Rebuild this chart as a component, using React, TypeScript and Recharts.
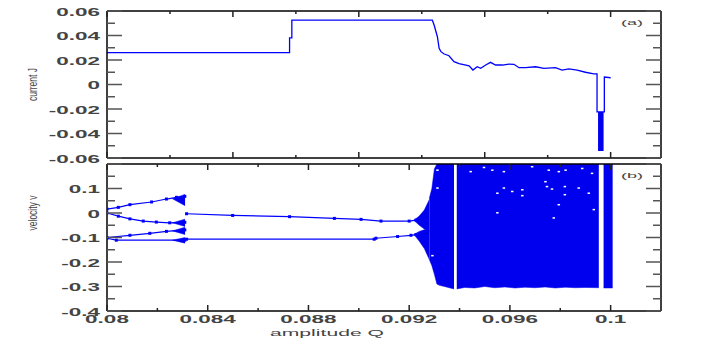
import React from 'react';
import { ComposedChart, Line, Area, Scatter, XAxis, YAxis } from 'recharts';

const Q_MIN = 0.08;
const Q_MAX = 0.102;
const BLUE = '#0000ff';
const FILL = '#0000ee';
const STRETCH = 2.25;
const FONT = '"Liberation Sans", Arial, sans-serif';

// ---- panel (a): current J vs amplitude Q
const currentJ: [number, number][] = [
  [0.08, 0.026], [0.08725, 0.026], [0.08725, 0.038], [0.08734, 0.038], [0.08734, 0.0525],
  [0.09292, 0.0525], [0.09299, 0.0486], [0.09312, 0.039], [0.09319, 0.0296], [0.09326, 0.0268],
  [0.09339, 0.0249], [0.09358, 0.0235], [0.09378, 0.0186], [0.09398, 0.017], [0.09438, 0.0153],
  [0.09453, 0.0118], [0.0947, 0.0145], [0.09484, 0.0132], [0.09504, 0.0159], [0.09523, 0.0181],
  [0.09543, 0.0159], [0.0957, 0.0159], [0.09596, 0.0167], [0.09616, 0.0165], [0.09636, 0.0137],
  [0.09662, 0.0137], [0.09702, 0.0145], [0.09735, 0.0132], [0.09781, 0.0137], [0.09807, 0.0118],
  [0.09834, 0.0127], [0.09867, 0.0118], [0.099, 0.01], [0.09933, 0.0086], [0.09946, 0.0086],
  [0.09946, -0.0224], [0.09975, -0.0224], [0.09975, 0.0061], [0.1, 0.0055],
];
// q, low, high
const currentSpread: [number, number, number][] = [
  [0.0995, -0.0543, -0.0224], [0.09972, -0.0543, -0.0224],
];

// ---- panel (b): velocity v vs amplitude Q
const branchA: [number, number][] = [
  [0.08, 0.016], [0.08045, 0.023], [0.08091, 0.034], [0.08177, 0.045], [0.08236, 0.057], [0.08276, 0.064], [0.08309, 0.068],
];
const branchB: [number, number][] = [
  [0.08, 0], [0.08045, -0.013], [0.08091, -0.024], [0.08144, -0.033], [0.08196, -0.037], [0.08249, -0.04], [0.08309, -0.038],
];
const branchC: [number, number][] = [
  [0.08, -0.1], [0.08091, -0.091], [0.0817, -0.083], [0.08236, -0.075], [0.08309, -0.069],
];
const branchD: [number, number][] = [
  [0.08, -0.103], [0.08037, -0.111], [0.08309, -0.111],
];
const upper2: [number, number][] = [
  [0.08316, -0.003], [0.08499, -0.01], [0.08725, -0.015], [0.08903, -0.022], [0.09009, -0.026],
  [0.09088, -0.033], [0.092, -0.033], [0.09227, -0.029],
];
const lower2: [number, number][] = [
  [0.08316, -0.107], [0.09061, -0.107], [0.09068, -0.103], [0.09154, -0.096], [0.09207, -0.091], [0.09227, -0.088],
];

const fanA: [number, number, number][] = [[0.0826, 0.058, 0.058], [0.0831, 0.03, 0.076]];
const fanB: [number, number, number][] = [[0.0826, -0.04, -0.04], [0.0831, -0.055, -0.025]];
const fanC: [number, number, number][] = [[0.0826, -0.073, -0.073], [0.0831, -0.088, -0.058]];
const fanD: [number, number, number][] = [[0.0826, -0.111, -0.111], [0.0831, -0.123, -0.1]];
const onsetUpper: [number, number, number][] = [
  [0.0922, -0.031, -0.029], [0.0924, -0.05, -0.012], [0.0926, -0.065, 0.012], [0.0928, -0.08, 0.055],
];
const onsetLower: [number, number, number][] = [
  [0.0922, -0.089, -0.087], [0.0924, -0.115, -0.075], [0.0926, -0.145, -0.068], [0.0928, -0.19, -0.07],
];
const chaos1: [number, number, number][] = [
  [0.0928, -0.19, 0.06], [0.0929, -0.215, 0.1], [0.093, -0.25, 0.18], [0.0931, -0.29, 0.2],
  [0.0932, -0.295, 0.2], [0.0934, -0.3, 0.2], [0.09378, -0.31, 0.2],
];
const chaos2: [number, number, number][] = [
  [0.09389, -0.31, 0.2], [0.0942, -0.304, 0.2], [0.0946, -0.306, 0.2], [0.095, -0.3, 0.2],
  [0.0954, -0.305, 0.2], [0.0958, -0.302, 0.2], [0.0962, -0.306, 0.2], [0.0966, -0.303, 0.2],
  [0.097, -0.305, 0.2], [0.0974, -0.302, 0.2], [0.0978, -0.306, 0.2], [0.0982, -0.303, 0.2],
  [0.0986, -0.305, 0.2], [0.099, -0.304, 0.2], [0.09953, -0.305, 0.2],
];
const chaos3: [number, number, number][] = [[0.09972, -0.306, 0.2], [0.10008, -0.306, 0.2]];
const holes: [number, number][] = [
  [0.09444, 0.169], [0.09497, 0.186], [0.0953, 0.175], [0.09576, 0.169], [0.09576, 0.102],
  [0.0955, 0.081], [0.09609, 0.088], [0.09649, 0.095], [0.09649, 0.071], [0.0955, 0.001],
  [0.09688, 0.189], [0.09741, 0.128], [0.09747, 0.108], [0.09767, 0.098], [0.09818, 0.108],
  [0.09818, 0.075], [0.09794, 0.034], [0.09774, -0.02], [0.09873, 0.102], [0.09913, 0.081],
  [0.09933, 0.014], [0.09754, 0.175], [0.09794, 0.169], [0.09821, 0.175], [0.09887, 0.182],
  [0.09926, 0.162], [0.09312, 0.175], [0.09312, 0.102], [0.09292, -0.174],
];

// ---- ticks
const topYTicks = [-0.06, -0.05, -0.04, -0.03, -0.02, -0.01, 0, 0.01, 0.02, 0.03, 0.04, 0.05, 0.06];
const topYLabels = [-0.06, -0.04, -0.02, 0, 0.02, 0.04, 0.06];
const botYTicks = [-0.4, -0.35, -0.3, -0.25, -0.2, -0.15, -0.1, -0.05, 0, 0.05, 0.1, 0.15, 0.2];
const botYLabels = [-0.4, -0.3, -0.2, -0.1, 0, 0.1];
const botYMajor = [-0.4, -0.3, -0.2, -0.1, 0, 0.1, 0.2];
const topXTicks = [0.08, 0.0825, 0.085, 0.0875, 0.09, 0.0925, 0.095, 0.0975, 0.1];
const topXMajor = [0.08, 0.085, 0.09, 0.095, 0.1];
const botXTicks = [0.08, 0.082, 0.084, 0.086, 0.088, 0.09, 0.092, 0.094, 0.096, 0.098, 0.1];
const botXLabels = [0.08, 0.084, 0.088, 0.092, 0.096, 0.1];

const pts = (a: [number, number][]) => a.map(([q, v]) => ({ q, v }));
const rng = (a: [number, number, number][]) => a.map(([q, lo, hi]) => ({ q, r: [lo, hi] }));
const has = (list: number[], v: number) => list.some((l) => Math.abs(l - v) < 1e-9);
const fmt = (v: number) => (Math.abs(v) < 1e-9 ? '0' : String(+v.toFixed(4)));

const Txt = ({ x, y, text, rotate = 0, sx = STRETCH, sy = 1, size = 10, weight = 700, anchor = 'middle' }: any) => (
  <text
    transform={`translate(${x},${y}) rotate(${rotate}) scale(${sx},${sy})`}
    textAnchor={anchor}
    fontFamily={FONT}
    fontSize={size}
    fontWeight={weight}
    fill="#444"
  >
    {text}
  </text>
);

const yTick = (side: 'left' | 'right', major: number[], labels: number[] | null) => (props: any) => {
  const { x, y, payload } = props;
  const big = has(major, payload.value);
  const len = big ? 15 : 8;
  const dir = side === 'left' ? 1 : -1;
  return (
    <g>
      <line x1={x} x2={x + dir * len} y1={y} y2={y} stroke="#555" strokeWidth={1.5} />
      {labels && has(labels, payload.value) && <Txt x={x - 7} y={y + 4.5} text={fmt(payload.value)} anchor="end" />}
    </g>
  );
};

const xTick = (side: 'top' | 'bottom', major: number[], labels: number[] | null) => (props: any) => {
  const { x, y, payload } = props;
  const big = has(major, payload.value);
  const len = big ? 6 : 3;
  const dir = side === 'bottom' ? -1 : 1;
  return (
    <g>
      <line x1={x} x2={x} y1={y} y2={y + dir * len} stroke="#222" strokeWidth={1.5} />
      {labels && has(labels, payload.value) && <Txt x={x} y={y + 12} text={fmt(payload.value)} />}
    </g>
  );
};

const PanelTag = ({ viewBox, text }: any) => (
  <Txt x={viewBox.x + viewBox.width - 29} y={viewBox.y + viewBox.height + 14} text={text} size={8} weight={400} />
);
const YTitle = ({ viewBox, text, dy }: any) => (
  <Txt x={37} y={viewBox.y + dy} text={text} rotate={-90} sx={1} sy={1.5} size={8.5} weight={400} />
);
const XTitle = ({ viewBox }: any) => (
  <Txt x={viewBox.x + 220} y={viewBox.y + 24.5} text="amplitude Q" sx={2.35} size={9} weight={400} />
);

const frame = { stroke: '#000', strokeWidth: 1.5 };
const square = (p: any) =>
  p.cx == null ? <g key={p.index} /> : <rect key={p.index} x={p.cx - 1.5} y={p.cy - 1.5} width={3} height={3} fill={BLUE} />;

const xCommon = {
  type: 'number' as const,
  dataKey: 'q',
  domain: [Q_MIN, Q_MAX],
  allowDataOverflow: true,
  interval: 0 as const,
  tickSize: 0,
  tickMargin: 0,
  tickLine: false,
  axisLine: frame,
};
const yCommon = {
  type: 'number' as const,
  allowDataOverflow: true,
  interval: 0 as const,
  tickSize: 0,
  tickMargin: 0,
  tickLine: false,
  axisLine: frame,
};

export default function App() {
  const branches = [branchA, branchB, branchC, branchD, upper2, lower2];
  const bands = [fanA, fanB, fanC, fanD, onsetUpper, onsetLower, chaos1, chaos2, chaos3];
  return (
    <div style={{ position: 'absolute', left: 0, top: 0, width: 706, height: 339, background: '#fff' }}>
      <div style={{ position: 'absolute', left: 0, top: 0 }}>
        <ComposedChart width={706} height={170} margin={{ top: 10, right: 44, bottom: 11, left: 0 }}>
          <XAxis {...xCommon} xAxisId="b" height={1} ticks={topXTicks} tick={xTick('bottom', topXMajor, null)} />
          <XAxis {...xCommon} xAxisId="t" orientation="top" height={1} ticks={topXTicks} tick={xTick('top', topXMajor, null)} label={<PanelTag text="(a)" />} />
          <YAxis {...yCommon} yAxisId="l" width={107} domain={[-0.06, 0.06]} ticks={topYTicks} tick={yTick('left', topYLabels, topYLabels)} label={<YTitle text="current J" dy={73.5} />} />
          <YAxis {...yCommon} yAxisId="r" orientation="right" width={1} domain={[-0.06, 0.06]} ticks={topYTicks} tick={yTick('right', topYLabels, null)} />
          <Area data={rng(currentSpread)} dataKey="r" xAxisId="b" yAxisId="l" type="linear" stroke="none" fill={FILL} fillOpacity={1} isAnimationActive={false} />
          <Line data={pts(currentJ)} dataKey="v" xAxisId="b" yAxisId="l" type="linear" stroke={BLUE} strokeWidth={1.3} dot={false} isAnimationActive={false} />
        </ComposedChart>
      </div>
      <div style={{ position: 'absolute', left: 0, top: 153 }}>
        <ComposedChart width={706} height={186} margin={{ top: 10, right: 44, bottom: 0, left: 0 }}>
          <XAxis {...xCommon} xAxisId="b" height={28} ticks={botXTicks} tick={xTick('bottom', botXLabels, botXLabels)} label={<XTitle />} />
          <XAxis {...xCommon} xAxisId="t" orientation="top" height={1} ticks={botXTicks} tick={xTick('top', botXLabels, null)} label={<PanelTag text="(b)" />} />
          <YAxis {...yCommon} yAxisId="l" width={107} domain={[-0.4, 0.2]} ticks={botYTicks} tick={yTick('left', botYMajor, botYLabels)} label={<YTitle text="velocity v" dy={49} />} />
          <YAxis {...yCommon} yAxisId="r" orientation="right" width={1} domain={[-0.4, 0.2]} ticks={botYTicks} tick={yTick('right', botYMajor, null)} />
          {bands.map((b, i) => (
            <Area key={'a' + i} data={rng(b)} dataKey="r" xAxisId="b" yAxisId="l" type="linear" stroke={FILL} strokeWidth={0.5} fill={FILL} fillOpacity={1} isAnimationActive={false} />
          ))}
          {branches.map((b, i) => (
            <Line key={'l' + i} data={pts(b)} dataKey="v" xAxisId="b" yAxisId="l" type="linear" stroke={BLUE} strokeWidth={1.2} dot={square} isAnimationActive={false} />
          ))}
          <Scatter data={pts(holes)} dataKey="v" xAxisId="b" yAxisId="l" isAnimationActive={false}
            shape={(p: any) => <rect x={p.cx - 1.2} y={p.cy - 0.7} width={2.5} height={1.5} fill="#fff" />} />
        </ComposedChart>
      </div>
    </div>
  );
}
